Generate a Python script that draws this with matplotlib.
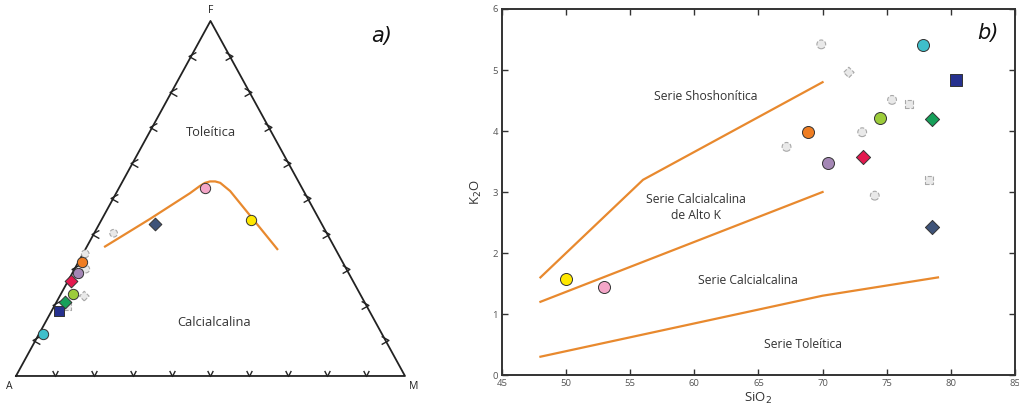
import matplotlib
matplotlib.use("Agg")
import matplotlib.pyplot as plt
import numpy as np
from matplotlib.path import Path

plt.rcParams['font.family'] = ['Open Sans', 'DejaVu Sans']

# ---------------- data ----------------
# coloured samples (same order in both panels)
sample_colors = ['#3fbfca', '#26318f', '#16a05a', '#9ccc3a', '#ef7d22',
                 '#a487b5', '#e3194f', '#3f5479', '#ffe800', '#f4a6c8']
sample_markers = ['o', 's', 'D', 'o', 'o', 'o', 'D', 'D', 'o', 'o']

# panel b) SiO2 vs K2O
sio2 = [77.84, 80.44, 78.57, 74.46, 68.87, 70.44, 73.16, 78.54, 49.96, 52.97]
k2o = [5.41, 4.84, 4.20, 4.22, 3.98, 3.47, 3.57, 2.43, 1.58, 1.44]

# panel a) AFM (A, F, M in %)
afm_A = [87.0, 79.8, 76.9, 73.7, 67.1, 69.5, 72.4, 42.9, 17.7, 24.9]
afm_F = [11.9, 18.4, 20.8, 23.1, 32.1, 28.9, 26.8, 42.8, 43.9, 53.0]
afm_M = [1.1, 1.8, 2.3, 3.2, 0.8, 1.6, 0.8, 14.3, 38.4, 22.1]

# grey (reference) samples, panel b
grey_circ_sio2 = [69.9, 75.42, 73.09, 67.19, 74.07]
grey_circ_k2o = [5.42, 4.51, 3.98, 3.74, 2.94]
grey_diam_sio2 = [72.05]
grey_diam_k2o = [4.96]
grey_sq_sio2 = [76.75, 78.28]
grey_sq_k2o = [4.44, 3.19]

# grey samples, panel a (A, F, M)
grey_circ_A = [54.8, 65.0, 67.0]
grey_circ_F = [40.2, 34.4, 30.1]
grey_circ_M = [5.0, 0.6, 2.9]
grey_diam_A = [71.2]
grey_diam_F = [22.5]
grey_diam_M = [6.3]
grey_sq_A = [77.0]
grey_sq_F = [19.5]
grey_sq_M = [3.5]

# AFM tholeiitic / calc-alkaline boundary (A, F, M %)
bound_A = [59.2, 43.5, 29.5, 26.0, 24.2, 22.7, 21.4, 20.3, 18.9, 16.8, 14.9]
bound_F = [36.3, 44.2, 51.5, 53.5, 54.4, 54.8, 54.8, 54.4, 52.1, 43.4, 35.5]
bound_M = [4.5, 12.3, 19.0, 20.5, 21.4, 22.5, 23.8, 25.3, 29.0, 39.8, 49.6]

# K2O-SiO2 series boundaries
sho_x = [48, 56, 70]
sho_y = [1.6, 3.2, 4.8]
hk_x = [48, 70]
hk_y = [1.2, 3.0]
th_x = [48, 70, 79]
th_y = [0.3, 1.3, 1.6]

tick_fracs = [0.1, 0.2, 0.3, 0.4, 0.5, 0.6, 0.7, 0.8, 0.9]

ORANGE = '#e8892e'
GREY_FACE = '#e9e9e9'
GREY_EDGE = '#a8a8a8'


def tern(A, F, M):
    A = np.asarray(A, float); F = np.asarray(F, float); M = np.asarray(M, float)
    s = A + F + M
    f = F / s
    m = M / s
    return m + 0.5 * f, f


fig = plt.figure(figsize=(10.19, 4.09), dpi=100)

# ---------------- panel a ----------------
axa = fig.add_axes([0.0, 0.0, 0.49, 1.0])
axa.set_xlim(-0.0411, 1.2425)
axa.set_ylim(-0.093, 1.059)
axa.axis('off')

axa.plot([0, 1, 0.5, 0], [0, 0, 1, 0], color='#222222', lw=1.3, zorder=2)

# chevron tick markers
chev_left = Path([(0.6, 0.5), (-0.3, 0.0), (0.6, -0.5)],
                 [Path.MOVETO, Path.LINETO, Path.LINETO])
chev_right = Path([(-0.6, 0.5), (0.3, 0.0), (-0.6, -0.5)],
                  [Path.MOVETO, Path.LINETO, Path.LINETO])
chev_bottom = Path([(-0.5, 1.0), (0.0, 0.0), (0.5, 1.0)],
                   [Path.MOVETO, Path.LINETO, Path.LINETO])
tf = np.array(tick_fracs)
axa.plot(0.5 * tf, tf, ls='none', marker=chev_left, ms=7, mfc='none',
         mec='#222222', mew=1.0, zorder=3)
axa.plot(1 - 0.5 * tf, tf, ls='none', marker=chev_right, ms=7, mfc='none',
         mec='#222222', mew=1.0, zorder=3)
axa.plot(tf, np.zeros_like(tf), ls='none', marker=chev_bottom, ms=8, mfc='none',
         mec='#222222', mew=1.0, zorder=3)

bx, by = tern(bound_A, bound_F, bound_M)
axa.plot(bx, by, color=ORANGE, lw=1.6, zorder=3, solid_capstyle='butt')

for A, F, M, mk, s in [(grey_circ_A, grey_circ_F, grey_circ_M, 'o', 30),
                       (grey_diam_A, grey_diam_F, grey_diam_M, 'D', 24),
                       (grey_sq_A, grey_sq_F, grey_sq_M, 's', 28)]:
    x, y = tern(A, F, M)
    axa.scatter(x, y, s=s, marker=mk, c=GREY_FACE, edgecolors=GREY_EDGE,
                linewidths=0.8, linestyle='--', zorder=4)

sx, sy = tern(afm_A, afm_F, afm_M)
for i in range(len(sx)):
    mk = sample_markers[i]
    size = {'o': 55, 's': 60, 'D': 42}[mk]
    axa.scatter([sx[i]], [sy[i]], s=size, marker=mk, c=sample_colors[i],
                edgecolors='#333333', linewidths=0.7, zorder=5)

axa.text(0.5, 1.013, 'F', ha='center', va='bottom', fontsize=7.5, color='#222')
axa.text(-0.01, -0.013, 'A', ha='right', va='top', fontsize=7.5, color='#222')
axa.text(1.01, -0.013, 'M', ha='left', va='top', fontsize=7.5, color='#222')
axa.text(0.502, 0.687, 'Toleítica', ha='center', va='center', fontsize=9.3, color='#333')
axa.text(0.509, 0.152, 'Calcialcalina', ha='center', va='center', fontsize=9.3, color='#333')
axa.text(0.94, 0.958, 'a)', ha='center', va='center', fontsize=15,
         style='italic', family='DejaVu Sans', color='#111')

# ---------------- panel b ----------------
axb = fig.add_axes([0.4926, 0.0831, 0.5034, 0.8949])
axb.set_xlim(45, 85)
axb.set_ylim(0, 6)
axb.set_xticks(np.arange(45, 86, 5))
axb.set_yticks(np.arange(0, 7, 1))
axb.tick_params(direction='in', top=True, right=True, length=4, width=1.0,
                labelsize=6.8, colors='#333333', labelcolor='#555555', pad=3)
for sp in axb.spines.values():
    sp.set_color('#333333')
    sp.set_linewidth(1.4)

axb.plot(sho_x, sho_y, color=ORANGE, lw=1.6)
axb.plot(hk_x, hk_y, color=ORANGE, lw=1.6)
axb.plot(th_x, th_y, color=ORANGE, lw=1.6)

for xs, ys, mk, s in [(grey_circ_sio2, grey_circ_k2o, 'o', 40),
                      (grey_diam_sio2, grey_diam_k2o, 'D', 28),
                      (grey_sq_sio2, grey_sq_k2o, 's', 32)]:
    axb.scatter(xs, ys, s=s, marker=mk, c=GREY_FACE, edgecolors=GREY_EDGE,
                linewidths=0.8, linestyle='--', zorder=4)

for i in range(len(sio2)):
    mk = sample_markers[i]
    size = {'o': 75, 's': 72, 'D': 52}[mk]
    axb.scatter([sio2[i]], [k2o[i]], s=size, marker=mk, c=sample_colors[i],
                edgecolors='#333333', linewidths=0.7, zorder=5)

axb.text(60.9, 4.57, 'Serie Shoshonítica', ha='center', va='center', fontsize=8.7, color='#333')
axb.text(60.1, 2.75, 'Serie Calcialcalina\nde Alto K', ha='center', va='center',
         fontsize=8.7, color='#333', linespacing=1.25)
axb.text(64.2, 1.55, 'Serie Calcialcalina', ha='center', va='center', fontsize=8.7, color='#333')
axb.text(68.5, 0.50, 'Serie Toleítica', ha='center', va='center', fontsize=8.7, color='#333')
axb.text(82.9, 5.6, 'b)', ha='center', va='center', fontsize=15,
         style='italic', family='DejaVu Sans', color='#111')

axb.set_xlabel('SiO$_2$', fontsize=9.5, color='#333', labelpad=2)
axb.set_ylabel('K$_2$O', fontsize=9.5, color='#333', labelpad=6)

fig.savefig('out.png', dpi=100)
